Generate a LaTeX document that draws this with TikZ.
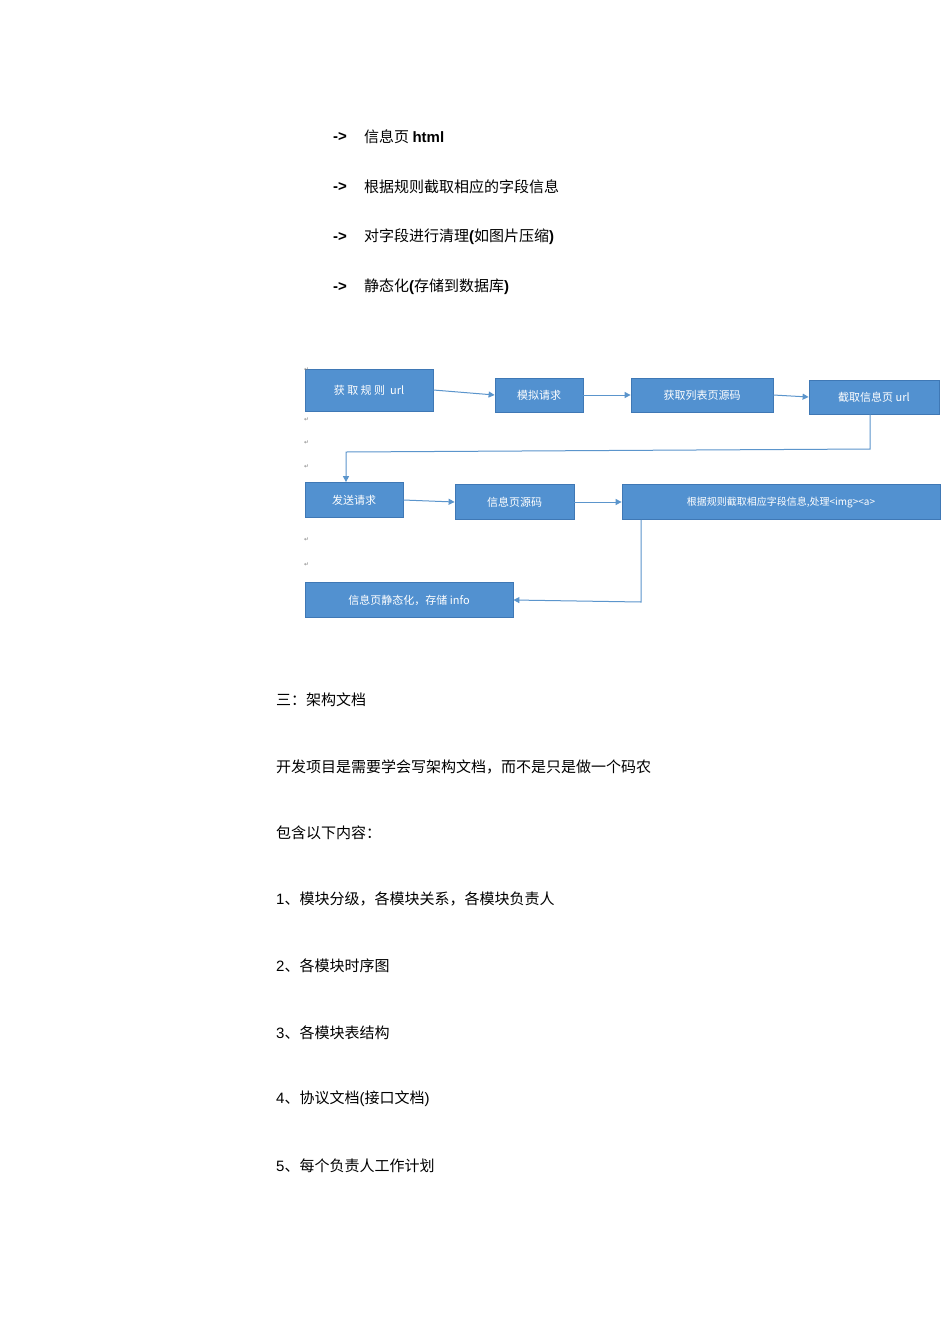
\documentclass[tikz,border=0pt]{standalone}
\usepackage{fontspec}
\setmainfont{Liberation Sans}
\newfontfamily\cjk{Noto Sans CJK SC}
\newfontfamily\djvfont{DejaVu Sans}
\usetikzlibrary{arrows.meta}
\definecolor{boxfill}{HTML}{5291D0}
\definecolor{boxline}{HTML}{3F78B5}
\definecolor{arr}{HTML}{5B95CC}
\tikzset{
 bx/.style={draw=boxline,fill=boxfill,line width=0.8pt,text=white,font=\cjk\fontsize{11}{12}\selectfont,inner sep=0pt},
 con/.style={draw=arr,line width=1pt,-{Triangle[length=6pt,width=6pt]}},
 tx/.style={anchor=west,inner sep=0pt,font=\cjk\fontsize{15}{18}\selectfont},
 ar/.style={anchor=west,inner sep=0pt,font=\bfseries\fontsize{15}{18}\selectfont},
 rm/.style={anchor=west,inner sep=0pt,text=gray,font=\djvfont\fontsize{6}{7}\selectfont}
}
\begin{document}
\begin{tikzpicture}[x=1pt,y=-1pt]
\useasboundingbox (0,0) rectangle (950,1344);
\fill[white] (0,0) rectangle (950,1344);
% arrows list
\foreach \y/\t in {137/{信息页 {\normalfont\bfseries html}},187/根据规则截取相应的字段信息,237/{对字段进行清理{\normalfont\bfseries(}如图片压缩{\normalfont\bfseries)}},287/{静态化{\normalfont\bfseries(}存储到数据库{\normalfont\bfseries)}}}{
 \node[ar] (a\y) at (333,\y) {->};
 \node[tx] (t\y) at (364,\y) {\t};
}
% boxes
\node[bx,minimum width=128pt,minimum height=42pt] (A) at (369,390) {获 取 规 则\ \ url};
\node[bx,minimum width=88pt,minimum height=34pt] (B) at (539,395) {模拟请求};
\node[bx,minimum width=142pt,minimum height=34pt] (C) at (702,395) {获取列表页源码};
\node[bx,minimum width=130pt,minimum height=34pt] (D) at (874,397) {截取信息页 url};
\node[bx,minimum width=98pt,minimum height=35pt] (E) at (354,500) {发送请求};
\node[bx,minimum width=119pt,minimum height=35pt] (F) at (514.5,502) {信息页源码};
\node[bx,minimum width=318pt,minimum height=35pt,font=\cjk\fontsize{10}{12}\selectfont] (G) at (781,502) {根据规则截取相应字段信息,处理<img><a>};
\node[bx,minimum width=208pt,minimum height=35pt] (H) at (409,600) {信息页静态化，存储 info};
% connectors
\draw[con] (A.east) -- (B.west);
\draw[con] (B.east) -- (C.west);
\draw[con] (C.east) -- (D.west);
\draw[con] (D.south -| 870,0) -- (870,449) -- (346,452) -- (E.north -| 346,0);
\draw[con] (E.east) -- (F.west);
\draw[con] (F.east) -- (G.west);
\draw[con] (G.south -| 641,0) -- (641,602) -- (H.east);
% return marks
\foreach \y in {370,420,443,467,540,565}{\node[rm] (r\y) at (304,\y) {↵};}
% body text
\node[tx] (s1) at (276,700) {三：架构文档};
\node[tx] (s2) at (276,767) {开发项目是需要学会写架构文档，而不是只是做一个码农};
\node[tx] (s3) at (276,833) {包含以下内容：};
\node[tx] (s4) at (276,899) {{\normalfont 1}、模块分级，各模块关系，各模块负责人};
\node[tx] (s5) at (276,966) {{\normalfont 2}、各模块时序图};
\node[tx] (s6) at (276,1033) {{\normalfont 3}、各模块表结构};
\node[tx] (s7) at (276,1099) {{\normalfont 4}、协议文档{\normalfont(}接口文档{\normalfont)}};
\node[tx] (s8) at (276,1166) {{\normalfont 5}、每个负责人工作计划};
\end{tikzpicture}
\end{document}
